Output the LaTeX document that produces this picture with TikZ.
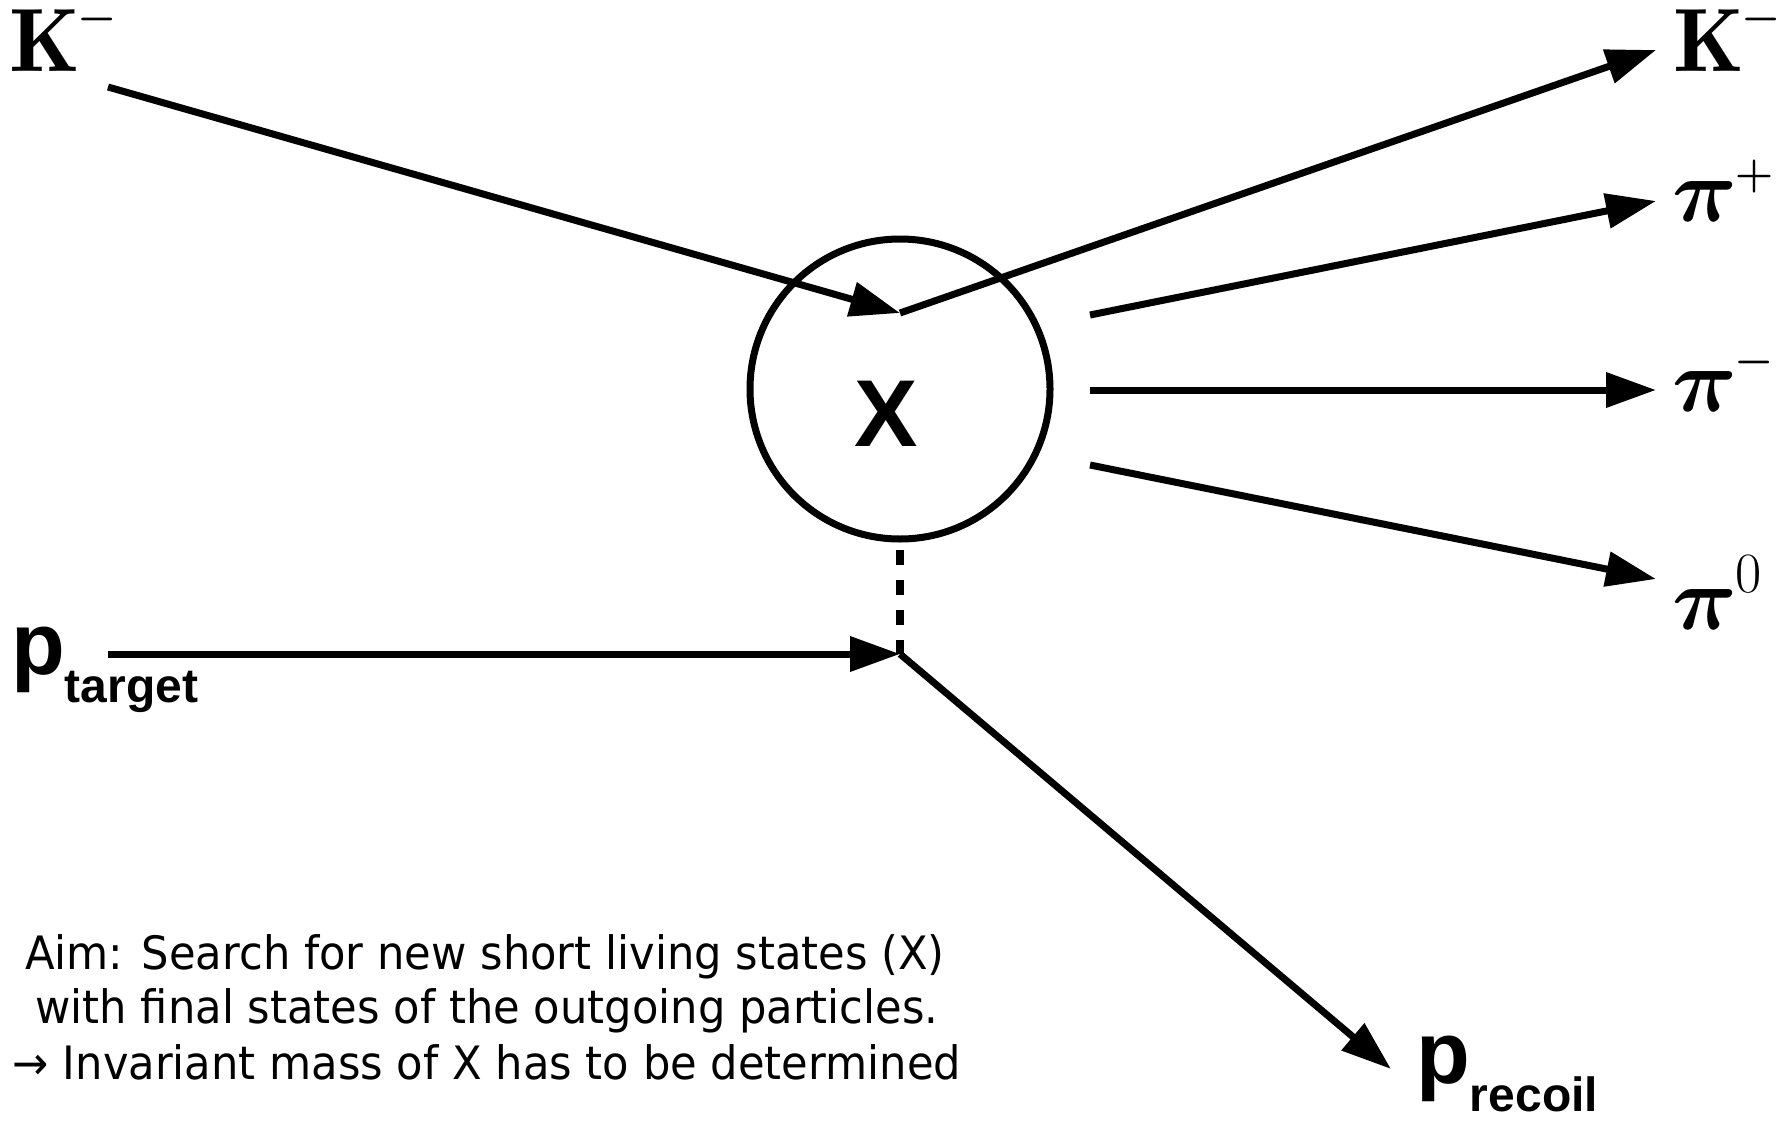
\RequirePackage{fix-cm}
\documentclass[tikz,border=0pt]{standalone}
\usepackage{amsmath}
\usepackage{fontspec}
\usetikzlibrary{arrows.meta}
\newfontfamily\labfont{Liberation Sans}
\newfontfamily\aimfont{DejaVu Sans}[FakeStretch=0.94]
\tikzset{
  ptl/.style={line width=7pt, -{Triangle[length=50pt,width=34pt]}},
  plain/.style={line width=7.5pt},
  lab/.style={inner sep=0pt, anchor=base west},
  mathlab/.style={lab, font=\fontsize{90}{90}\selectfont},
  plab/.style={lab, font=\labfont\bfseries\fontsize{88}{88}\selectfont},
  aim/.style={inner sep=0pt, anchor=base, font=\aimfont\fontsize{46}{46}\selectfont},
}
\newcommand{\subtxt}[1]{\raisebox{-28pt}{\fontsize{48}{48}\selectfont #1}}
\newcommand{\supsym}[2]{\raisebox{#1}{\fontsize{44}{44}\selectfont\boldmath$#2$}}
\newcommand{\supnum}[2]{\raisebox{#1}{\fontsize{57}{57}\selectfont$#2$}}
\begin{document}
\begin{tikzpicture}[x=1pt,y=-1pt]
\useasboundingbox (0,0) rectangle (1777,1121);
% central blob
\node[circle, draw, line width=7pt, minimum size=300pt, inner sep=0pt] (xc) at (900,389) {};
\node[inner sep=0pt, font=\labfont\bfseries\fontsize{95}{95}\selectfont] (xl) at (886,414) {X};
% vertices and free ends
\coordinate (v1) at (900,313);
\coordinate (v2) at (900,654);
\coordinate (kin) at (108,87);
\coordinate (kout) at (1656,50);
\coordinate (pipS) at (1090,315);
\coordinate (pipE) at (1656,201);
\coordinate (pimS) at (1090,390);
\coordinate (pimE) at (1656,390);
\coordinate (pizS) at (1090,465);
\coordinate (pizE) at (1656,579);
\coordinate (ptin) at (108,654);
\coordinate (prec) at (1391,1069);
\coordinate (dtop) at (900,550);
% labels
\node[mathlab] (kl) at (9,72) {$\mathbf{K}$\kern-2pt\supsym{41pt}{-}};
\node[mathlab] (kr) at (1673,72) {$\mathbf{K}$\kern-2pt\supsym{41pt}{-}};
\node[mathlab] (pip) at (1672,221) {$\boldsymbol{\pi}$\kern-2pt\supsym{34pt}{+}};
\node[mathlab] (pim) at (1672,411) {$\boldsymbol{\pi}$\kern-2pt\supsym{38pt}{-}};
\node[mathlab] (piz) at (1672,629) {$\boldsymbol{\pi}$\kern-1pt\supnum{37pt}{0}};
\node[plab] (pt) at (11,674) {p\subtxt{target}};
\node[plab] (pr) at (1416,1083) {p\subtxt{recoil}};
% connectors
\draw[ptl] (kin) -- (v1);
\draw[ptl] (v1) -- (kout);
\draw[ptl] (pipS) -- (pipE);
\draw[ptl] (pimS) -- (pimE);
\draw[ptl] (pizS) -- (pizE);
\draw[ptl] (ptin) -- (v2);
\draw[ptl] (v2) -- (prec);
\draw[plain, dash pattern=on 15pt off 15pt] (dtop) -- (v2);
% note
\node[aim] (aim1) at (485,969) {Aim: Search for new short living states (X)};
\node[aim] (aim2) at (487,1023) {with final states of the outgoing particles.};
\node[aim] (aim3) at (487,1079) {→ Invariant mass of X has to be determined};
\end{tikzpicture}
\end{document}
